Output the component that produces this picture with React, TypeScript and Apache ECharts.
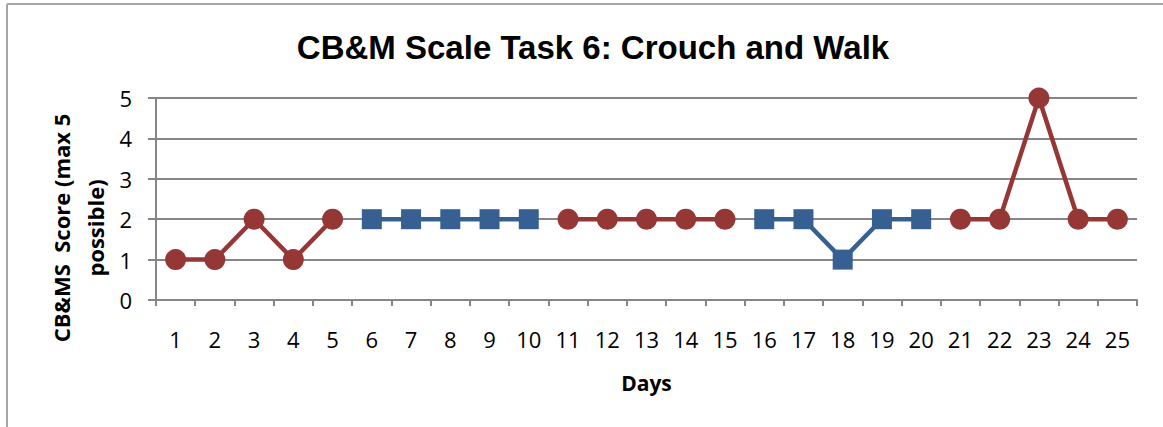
import React, { useEffect, useRef } from "react";
import * as echarts from "echarts";

const days = ["1","2","3","4","5","6","7","8","9","10","11","12","13","14","15","16","17","18","19","20","21","22","23","24","25"];
const redScores = [1, 1, 2, 1, 2, null, null, null, null, null, 2, 2, 2, 2, 2, null, null, null, null, null, 2, 2, 5, 2, 2];
const blueScores = [null, null, null, null, null, 2, 2, 2, 2, 2, null, null, null, null, null, 2, 2, 1, 2, 2, null, null, null, null, null];
const yTicks = [0, 1, 2, 3, 4, 5];
const yAxisTitle = "CB&MS  Score (max 5\npossible)";

export default function App() {
  const ref = useRef<HTMLDivElement>(null);
  useEffect(() => {
    const chart = echarts.init(ref.current!, null, { renderer: "svg" });
    const labelFont = "'Open Sans', 'Noto Sans', sans-serif";
    chart.setOption({
      animation: false,
      backgroundColor: "#ffffff",
      title: {
        text: "CB&M Scale Task 6: Crouch and Walk",
        left: 588,
        textAlign: "center",
        top: 26,
        textStyle: { fontFamily: "'Liberation Sans', Arial, sans-serif", fontWeight: "bold", fontSize: 33, color: "#000" },
      },
      graphic: [
        { type: "line", shape: { x1: 7, y1: 4, x2: 1163, y2: 4 }, style: { stroke: "#a6a6a6", lineWidth: 2 } },
        { type: "line", shape: { x1: 7, y1: 4, x2: 7, y2: 427 }, style: { stroke: "#a6a6a6", lineWidth: 2 } },
        {
          type: "text",
          x: 78,
          y: 228,
          rotation: Math.PI / 2,
          style: {
            text: yAxisTitle,
            fontFamily: labelFont,
            fontWeight: "bold",
            fontSize: 22,
            lineHeight: 34,
            fill: "#000",
            align: "center",
            verticalAlign: "middle",
          },
        },
      ],
      grid: { left: 156, top: 98, width: 981, height: 202, containLabel: false },
      xAxis: {
        type: "category",
        data: days,
        boundaryGap: true,
        name: "Days",
        nameLocation: "middle",
        nameGap: 72,
        nameTextStyle: { fontFamily: labelFont, fontWeight: "bold", fontSize: 21, color: "#000" },
        axisLine: { lineStyle: { color: "#868686", width: 2 } },
        axisTick: { show: true, length: 6, lineStyle: { color: "#868686", width: 2 }, alignWithLabel: false },
        axisLabel: { fontFamily: labelFont, fontSize: 22, color: "#000", margin: 28, interval: 0 },
        splitLine: { show: false },
      },
      yAxis: {
        type: "value",
        min: yTicks[0],
        max: yTicks[yTicks.length - 1],
        interval: 1,
        axisLine: { show: true, lineStyle: { color: "#868686", width: 2 } },
        axisTick: { show: true, length: 8, lineStyle: { color: "#868686", width: 2 } },
        axisLabel: { fontFamily: labelFont, fontSize: 22, color: "#000", margin: 24 },
        splitLine: { show: true, lineStyle: { color: "#868686", width: 2 } },
      },
      series: [
        {
          type: "line",
          data: redScores,
          connectNulls: false,
          symbol: "circle",
          symbolSize: 21,
          lineStyle: { color: "#953735", width: 4.5 },
          itemStyle: { color: "#953735" },
          z: 3,
        },
        {
          type: "line",
          data: blueScores,
          connectNulls: false,
          symbol: "rect",
          symbolSize: 20,
          lineStyle: { color: "#366092", width: 4.5 },
          itemStyle: { color: "#366092" },
          z: 3,
        },
      ],
    });
    return () => chart.dispose();
  }, []);
  return <div ref={ref} style={{ position: "absolute", left: 0, top: 0, width: 1163, height: 427 }} />;
}
